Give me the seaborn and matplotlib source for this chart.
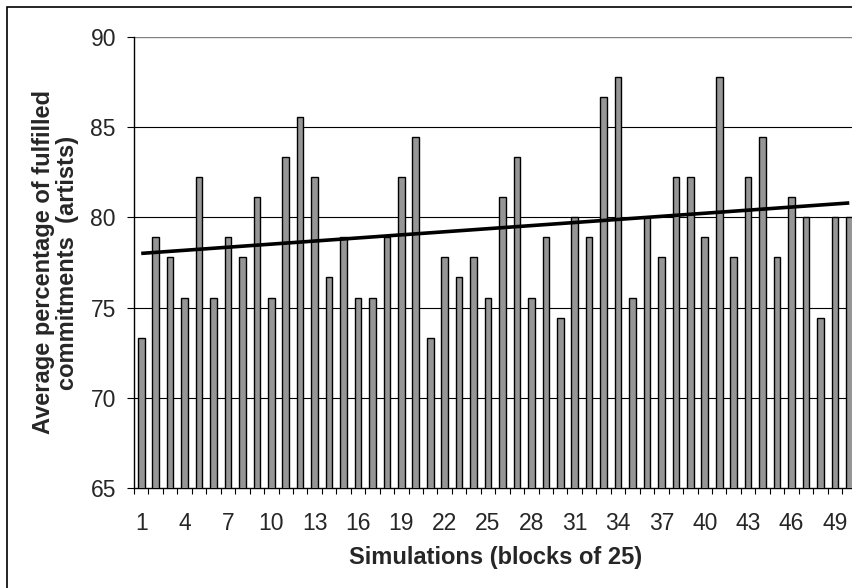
import numpy as np
import matplotlib.pyplot as plt
import seaborn as sns
from matplotlib.patches import Rectangle

# average % of fulfilled commitments per block of 25 simulations
simulations = list(range(1, 51))
fulfilled = [73.33, 78.89, 77.78, 75.56, 82.22, 75.56, 78.89, 77.78, 81.11, 75.56,
             83.33, 85.56, 82.22, 76.67, 78.89, 75.56, 75.56, 78.89, 82.22, 84.44,
             73.33, 77.78, 76.67, 77.78, 75.56, 81.11, 83.33, 75.56, 78.89, 74.44,
             80.00, 78.89, 86.67, 87.78, 75.56, 80.00, 77.78, 82.22, 82.22, 78.89,
             87.78, 77.78, 82.22, 84.44, 77.78, 81.11, 80.00, 74.44, 80.00, 80.00]
y_ticks = [65, 70, 75, 80, 85, 90]

sns.set_style("white")
plt.rcParams['font.family'] = ['Liberation Sans', 'DejaVu Sans']

fig = plt.figure(figsize=(8.53, 5.88), dpi=100)
ax = fig.add_axes([134 / 853, 99.7 / 588, 722.5 / 853, 451.6 / 588])

sns.barplot(x=simulations, y=fulfilled, color="#969696", saturation=1,
            width=0.46, edgecolor="black", linewidth=1.0, ax=ax, zorder=3)

# linear trend line
coef = np.polyfit(simulations, fulfilled, 1)
ax.plot(np.arange(len(simulations)), np.polyval(coef, simulations),
        color="black", lw=2.6, zorder=4, solid_capstyle="butt")

ax.set_ylim(65, 90)
ax.set_xlim(-0.5, len(simulations) - 0.5)
ax.set_yticks(y_ticks)
ax.set_yticklabels([str(v) for v in y_ticks], fontsize=16.5)
ax.set_xticks(range(0, len(simulations), 3))
ax.set_xticklabels([str(s) for s in simulations[::3]], fontsize=16.5)
ax.set_xticks(np.arange(-0.5, len(simulations), 1), minor=True)

for v in y_ticks[1:-1]:
    ax.axhline(v, color="black", lw=0.8, zorder=1)
ax.axhline(90, color="#808080", lw=1.0, zorder=1)

for s in ["top", "right"]:
    ax.spines[s].set_visible(False)
ax.spines["left"].set_color("black")
ax.spines["bottom"].set_color("black")
ax.spines["left"].set_linewidth(1.0)
ax.spines["bottom"].set_linewidth(1.0)

ax.tick_params(axis="y", which="major", direction="out", length=5, width=0.8,
               color="black", pad=8, left=True)
ax.tick_params(axis="x", which="major", length=0, pad=17, bottom=True)
ax.tick_params(axis="x", which="minor", direction="out", length=4.5, width=0.8,
               color="black", bottom=True)

ax.set_xlabel("Simulations (blocks of 25)", fontsize=17, fontweight="bold",
              labelpad=8)
ax.set_ylabel("Average percentage of fulfilled\ncommitments  (artists)",
              fontsize=17, fontweight="bold", labelpad=8, linespacing=1.08)

# outer chart border (cropped at right and bottom)
fig.patches.append(Rectangle((7 / 853, -0.1), 1.2, (588 - 7.5) / 588 + 0.1,
                             transform=fig.transFigure, fill=False,
                             edgecolor="black", lw=1.2))

fig.savefig("out.png", dpi=100)
